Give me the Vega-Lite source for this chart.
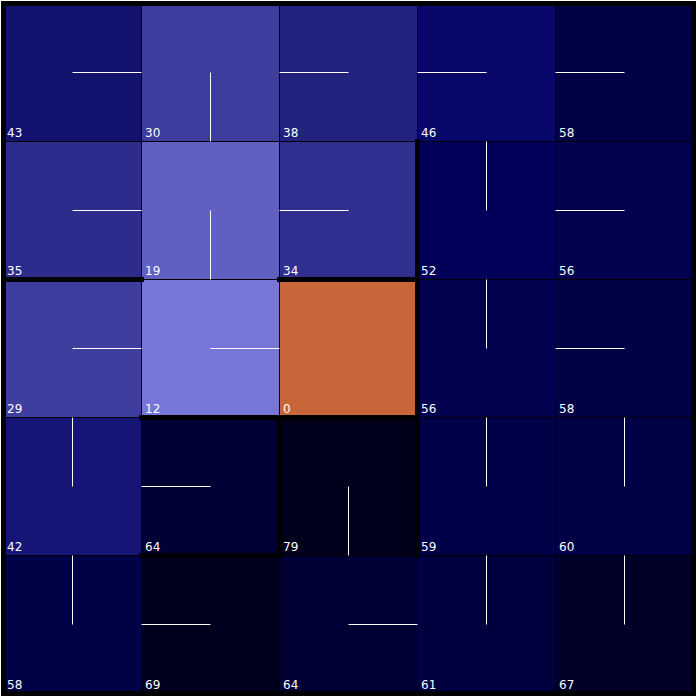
{
  "$schema": "https://vega.github.io/schema/vega-lite/v6.json",
  "width": 690,
  "height": 690,
  "autosize": {"type": "none"},
  "padding": {"left": 3.5, "top": 3.5, "right": 3.5, "bottom": 4.5},
  "background": "white",
  "config": {"view": {"stroke": null}},
  "datasets": {
    "cells": [
      {"c": 0, "r": 0, "v": 43}, {"c": 1, "r": 0, "v": 30}, {"c": 2, "r": 0, "v": 38}, {"c": 3, "r": 0, "v": 46}, {"c": 4, "r": 0, "v": 58},
      {"c": 0, "r": 1, "v": 35}, {"c": 1, "r": 1, "v": 19}, {"c": 2, "r": 1, "v": 34}, {"c": 3, "r": 1, "v": 52}, {"c": 4, "r": 1, "v": 56},
      {"c": 0, "r": 2, "v": 29}, {"c": 1, "r": 2, "v": 12}, {"c": 2, "r": 2, "v": 0}, {"c": 3, "r": 2, "v": 56}, {"c": 4, "r": 2, "v": 58},
      {"c": 0, "r": 3, "v": 42}, {"c": 1, "r": 3, "v": 64}, {"c": 2, "r": 3, "v": 79}, {"c": 3, "r": 3, "v": 59}, {"c": 4, "r": 3, "v": 60},
      {"c": 0, "r": 4, "v": 58}, {"c": 1, "r": 4, "v": 69}, {"c": 2, "r": 4, "v": 64}, {"c": 3, "r": 4, "v": 61}, {"c": 4, "r": 4, "v": 67}
    ],
    "policy": [
      {"x": 0.5, "y": 0.5, "x2": 1, "y2": 0.5}, {"x": 1.5, "y": 0.5, "x2": 1.5, "y2": 1}, {"x": 2.5, "y": 0.5, "x2": 2, "y2": 0.5}, {"x": 3.5, "y": 0.5, "x2": 3, "y2": 0.5}, {"x": 4.5, "y": 0.5, "x2": 4, "y2": 0.5},
      {"x": 0.5, "y": 1.5, "x2": 1, "y2": 1.5}, {"x": 1.5, "y": 1.5, "x2": 1.5, "y2": 2}, {"x": 2.5, "y": 1.5, "x2": 2, "y2": 1.5}, {"x": 3.5, "y": 1.5, "x2": 3.5, "y2": 1}, {"x": 4.5, "y": 1.5, "x2": 4, "y2": 1.5},
      {"x": 0.5, "y": 2.5, "x2": 1, "y2": 2.5}, {"x": 1.5, "y": 2.5, "x2": 2, "y2": 2.5}, {"x": 3.5, "y": 2.5, "x2": 3.5, "y2": 2}, {"x": 4.5, "y": 2.5, "x2": 4, "y2": 2.5},
      {"x": 0.5, "y": 3.5, "x2": 0.5, "y2": 3}, {"x": 1.5, "y": 3.5, "x2": 1, "y2": 3.5}, {"x": 2.5, "y": 3.5, "x2": 2.5, "y2": 4}, {"x": 3.5, "y": 3.5, "x2": 3.5, "y2": 3}, {"x": 4.5, "y": 3.5, "x2": 4.5, "y2": 3},
      {"x": 0.5, "y": 4.5, "x2": 0.5, "y2": 4}, {"x": 1.5, "y": 4.5, "x2": 1, "y2": 4.5}, {"x": 2.5, "y": 4.5, "x2": 3, "y2": 4.5}, {"x": 3.5, "y": 4.5, "x2": 3.5, "y2": 4}, {"x": 4.5, "y": 4.5, "x2": 4.5, "y2": 4}
    ],
    "walls": [
      {"x": 0, "y": 2, "x2": 1, "y2": 2},
      {"x": 2, "y": 2, "x2": 3, "y2": 2},
      {"x": 3, "y": 1, "x2": 3, "y2": 2},
      {"x": 3, "y": 2, "x2": 3, "y2": 3},
      {"x": 1, "y": 3, "x2": 3, "y2": 3},
      {"x": 2, "y": 3, "x2": 2, "y2": 4},
      {"x": 1, "y": 4, "x2": 2, "y2": 4},
      {"x": 3, "y": 3, "x2": 3, "y2": 4},
      {"x": 0, "y": 0, "x2": 5, "y2": 0},
      {"x": 0, "y": 5, "x2": 5, "y2": 5},
      {"x": 0, "y": 0, "x2": 0, "y2": 5},
      {"x": 5, "y": 0, "x2": 5, "y2": 5}
    ]
  },
  "layer": [
    {
      "data": {"name": "cells"},
      "layer": [
        {
          "mark": {"type": "rect", "stroke": "black", "strokeWidth": 1},
          "encoding": {
            "x": {"field": "c", "type": "ordinal", "axis": null, "scale": {"paddingInner": 0, "paddingOuter": 0}},
            "y": {"field": "r", "type": "ordinal", "axis": null, "scale": {"paddingInner": 0, "paddingOuter": 0}},
            "color": {
              "condition": {"test": "datum.v === 0", "value": "#c8663a"},
              "field": "v",
              "type": "quantitative",
              "legend": null,
              "scale": {
                "domain": [12, 19, 29, 30, 34, 35, 38, 42, 43, 46, 52, 56, 58, 59, 60, 61, 64, 67, 69, 79],
                "range": ["#7676d8", "#6060c2", "#3e3e9e", "#3d3d9d", "#2f2f8f", "#2c2c8c", "#22227f", "#151575", "#12126f", "#08086a", "#000058", "#010150", "#010148", "#000048", "#000046", "#00003e", "#000034", "#000028", "#00001e", "#00001c"],
                "interpolate": "rgb"
              }
            }
          }
        },
        {
          "mark": {"type": "text", "color": "white", "font": "DejaVu Sans", "fontSize": 12, "align": "left", "baseline": "alphabetic", "dx": 3.5, "dy": -5},
          "encoding": {
            "x": {"field": "c", "type": "ordinal", "axis": null, "bandPosition": 0},
            "y": {"field": "r", "type": "ordinal", "axis": null, "bandPosition": 1},
            "text": {"field": "v", "type": "quantitative"}
          }
        }
      ]
    },
    {
      "data": {"name": "policy"},
      "mark": {"type": "rule", "color": "white", "strokeWidth": 1},
      "encoding": {
        "x": {"field": "x", "type": "quantitative", "axis": null, "scale": {"domain": [0, 5], "nice": false, "zero": false}},
        "y": {"field": "y", "type": "quantitative", "axis": null, "scale": {"domain": [0, 5], "nice": false, "zero": false, "reverse": true}},
        "x2": {"field": "x2"},
        "y2": {"field": "y2"}
      }
    },
    {
      "data": {"name": "walls"},
      "mark": {"type": "rule", "color": "black", "strokeWidth": 5, "strokeCap": "square"},
      "encoding": {
        "x": {"field": "x", "type": "quantitative", "axis": null, "scale": {"domain": [0, 5], "nice": false, "zero": false}},
        "y": {"field": "y", "type": "quantitative", "axis": null, "scale": {"domain": [0, 5], "nice": false, "zero": false, "reverse": true}},
        "x2": {"field": "x2"},
        "y2": {"field": "y2"}
      }
    }
  ],
  "resolve": {"scale": {"x": "independent", "y": "independent"}}
}
